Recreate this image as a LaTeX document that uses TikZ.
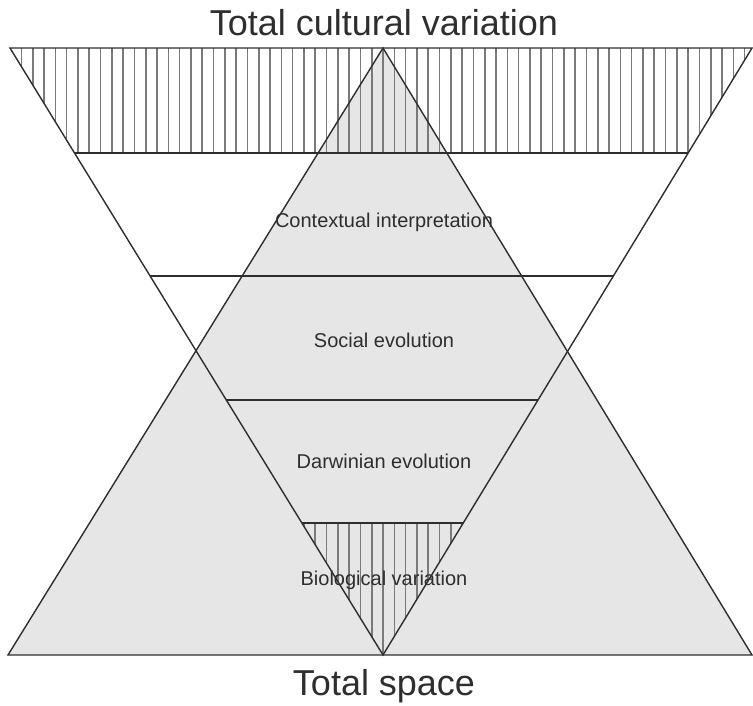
\documentclass[tikz,border=0pt]{standalone}
\usepackage{fontspec}
\setmainfont{Liberation Sans}
\usepackage{xcolor}
\usetikzlibrary{calc}
\definecolor{spacegray}{HTML}{E6E6E6}
\definecolor{hatchgray}{HTML}{7A7A7A}
\definecolor{edge}{HTML}{2E2E2E}

\begin{document}
\begin{tikzpicture}[x=1pt,y=-1pt,
  outline/.style={draw=edge,line width=1.4pt},
  hatchline/.style={draw=hatchgray,line width=1.6pt},
  band/.style={font=\fontsize{20}{24}\selectfont,text=edge,anchor=base,inner sep=0pt},
  heading/.style={font=\fontsize{36}{42}\selectfont,text=edge,anchor=base,inner sep=0pt}]

    \useasboundingbox (0,0) rectangle (753,705);

    % corners of the two triangles
    \coordinate (cultL) at (10,48);
    \coordinate (cultR) at (752,48);
    \coordinate (cultA) at (383,655);
    \coordinate (spaceL) at (8,655);
    \coordinate (spaceR) at (752,655);
    \coordinate (spaceA) at (383,48);

    % total space triangle
    \fill[spacegray] (spaceL) -- (spaceA) -- (spaceR) -- cycle;

    % hatched bands
    \begin{scope}
        \clip (cultL) -- (cultR) -- ($(cultR)!105/607!(cultA)$) -- ($(cultL)!105/607!(cultA)$) -- cycle;
        \foreach \k in {-33,...,33}
            \draw[hatchline] (383+11.3*\k,48) -- (383+11.3*\k,153);
    \end{scope}
    \begin{scope}
        \clip ($(cultL)!475/607!(cultA)$) -- ($(cultR)!475/607!(cultA)$) -- (cultA) -- cycle;
        \foreach \k in {-8,...,8}
            \draw[hatchline] (383+11.3*\k,523) -- (383+11.3*\k,655);
    \end{scope}

    % outlines
    \draw[outline] (spaceL) -- (spaceA) -- (spaceR) -- cycle;
    \draw[outline] (cultL) -- (cultR) -- (cultA) -- cycle;
    \foreach \h in {105,228,352,475}
        \draw[outline] ($(cultL)!\h/607!(cultA)$) -- ($(cultR)!\h/607!(cultA)$);

    % labels
    \node[heading] (cultural) at (384,35) {Total cultural variation};
    \node[heading] (space) at (384,695) {Total space};
    \node[band] (context) at (384,227) {Contextual interpretation};
    \node[band] (social) at (384,347) {Social evolution};
    \node[band] (darwin) at (384,468) {Darwinian evolution};
    \node[band] (bio) at (384,585) {Biological variation};
\end{tikzpicture}
\end{document}
